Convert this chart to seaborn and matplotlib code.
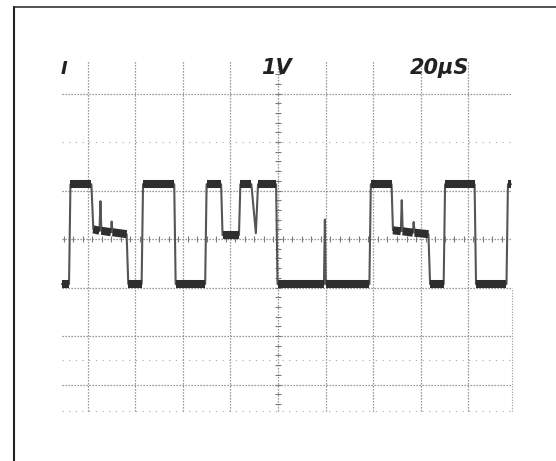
import numpy as np
import pandas as pd
import matplotlib
matplotlib.use("Agg")
import matplotlib.pyplot as plt
import seaborn as sns

# ---- data: oscilloscope trace (time in microseconds, amplitude in volts) ----
time_us = [-90.8, -87.8, -87.2, -78.4, -77.6, -75.0, -74.6, -74.2, -70.2, -69.9,
           -69.5, -63.6, -62.9, -57.3, -56.7, -43.6, -43.0, -30.6, -30.0, -23.9,
           -23.3, -16.4, -15.8, -11.2, -9.3, -8.4, -0.8, -0.2, 19.3, 19.7,
           20.1, 38.4, 39.0, 47.7, 48.3, 51.6, 52.0, 52.4, 56.7, 57.0,
           57.4, 63.2, 63.9, 69.6, 70.2, 82.6, 83.2, 96.0, 96.6, 97.9]
volts = [-0.93, -0.93, 1.13, 1.13, 0.20, 0.17, 0.78, 0.17, 0.14, 0.36,
         0.14, 0.10, -0.93, -0.93, 1.13, 1.13, -0.93, -0.93, 1.13, 1.13,
         0.08, 0.08, 1.13, 1.13, 0.12, 1.13, 1.13, -0.93, -0.93, 0.40,
         -0.93, -0.93, 1.13, 1.13, 0.18, 0.16, 0.80, 0.16, 0.13, 0.35,
         0.13, 0.10, -0.93, -0.93, 1.13, 1.13, -0.93, -0.93, 1.13, 1.13]

volt_label = "1V"
time_label = "20\u00b5S"
chan_label = "I"

# graticule
v_grid = [-80, -60, -40, -20, 0, 20, 40, 60, 80]
h_grid_main = [3, 1, 0, -1, -2, -3]
h_grid_faint = [2, -2.5, -3.55]

sns.set_style("white")
fig = plt.figure(figsize=(5.56, 4.61), dpi=100)
ax = fig.add_axes([0, 0, 1, 1])
ax.set_xlim(-116.8, 116.8)
ax.set_ylim(-4.577, 4.928)
ax.axis("off")

dot = (0, (1, 1.4))
gcol = "#7a7a7a"
x_left, x_right = -90.8, 98.5
for x in v_grid:
    ax.plot([x, x], [-3.55, 3.68], color=gcol, lw=0.9, ls=dot, zorder=1)
ax.plot([x_right, x_right], [-3.55, -1.0], color="#9a9a9a", lw=0.8, ls=dot, zorder=1)
for y in h_grid_main:
    ax.plot([x_left, x_right], [y, y], color=gcol, lw=0.9, ls=dot, zorder=1)
for y in h_grid_faint:
    ax.plot([x_left, x_right], [y, y], color="#a8a8a8", lw=0.8, ls=(0, (1, 5)), zorder=1)

# minor ticks on centre axes
tx = np.arange(-90, 98, 4)
ax.plot(tx, np.zeros_like(tx, dtype=float), ls="none", marker="|", ms=4,
        color=gcol, mew=0.8, zorder=1)
ty = np.arange(-3.4, 3.6, 0.2)
ax.plot(np.zeros_like(ty), ty, ls="none", marker="_", ms=4,
        color=gcol, mew=0.8, zorder=1)

# trace
df = pd.DataFrame({"t": time_us, "v": volts})
sns.lineplot(data=df, x="t", y="v", sort=False, estimator=None, ax=ax,
             color="#555555", lw=1.5, zorder=3)
# thick plateaus (phosphor blur)
for i in range(len(time_us) - 1):
    if time_us[i + 1] - time_us[i] > 1.0 and abs(volts[i + 1] - volts[i]) < 0.1:
        ax.plot(time_us[i:i + 2], volts[i:i + 2], color="#2e2e2e", lw=5.8,
                solid_capstyle="butt", zorder=4)

# labels
ax.text(-0.8, 3.53, volt_label, fontsize=15, fontweight="bold", style="italic",
        ha="center", va="center", color="#222")
ax.text(68.0, 3.53, time_label, fontsize=15, fontweight="bold", style="italic",
        ha="center", va="center", color="#222")
ax.text(-89.9, 3.50, chan_label, fontsize=13, fontweight="bold", style="italic",
        ha="center", va="center", color="#222")

# photo border
ax.plot([-110.9, 116.8], [4.784, 4.784], color="#333", lw=1.2, zorder=2)
ax.plot([-110.9, -110.9], [4.784, -4.6], color="#222", lw=1.5, zorder=2)

fig.savefig("out.png", dpi=100)
